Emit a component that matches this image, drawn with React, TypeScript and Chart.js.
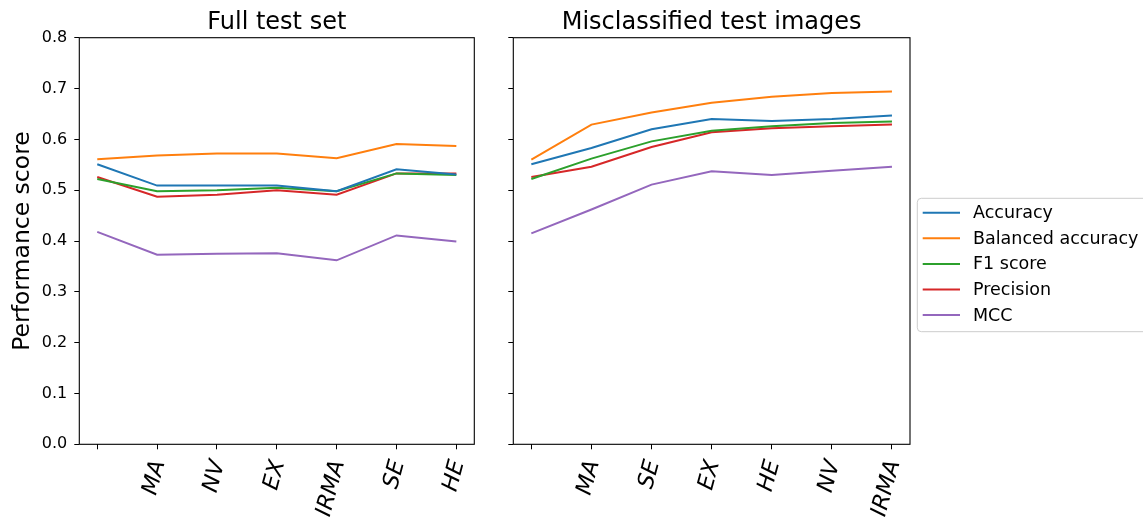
import React, { useEffect, useRef } from 'react';
import { Chart, registerables } from 'chart.js';

Chart.register(...registerables);

// ---- data ----
const fullLabels = ['', 'MA', 'NV', 'EX', 'IRMA', 'SE', 'HE'];
const misLabels = ['', 'MA', 'SE', 'EX', 'HE', 'NV', 'IRMA'];
const seriesNames = ['Accuracy', 'Balanced accuracy', 'F1 score', 'Precision', 'MCC'];
const seriesColors = ['#1f77b4', '#ff7f0e', '#2ca02c', '#d62728', '#9467bd'];
const yTickValues = [0, 0.1, 0.2, 0.3, 0.4, 0.5, 0.6, 0.7, 0.8];

const accuracyFull = [0.551, 0.509, 0.509, 0.509, 0.498, 0.541, 0.531];
const balancedFull = [0.561, 0.568, 0.572, 0.572, 0.563, 0.591, 0.587];
const f1Full = [0.522, 0.498, 0.5, 0.505, 0.498, 0.533, 0.53];
const precisionFull = [0.526, 0.487, 0.491, 0.5, 0.491, 0.533, 0.533];
const mccFull = [0.418, 0.373, 0.375, 0.376, 0.362, 0.411, 0.399];

const accuracyMis = [0.551, 0.583, 0.62, 0.64, 0.636, 0.64, 0.647];
const balancedMis = [0.56, 0.629, 0.653, 0.672, 0.684, 0.691, 0.694];
const f1Mis = [0.522, 0.562, 0.596, 0.617, 0.626, 0.632, 0.635];
const precisionMis = [0.526, 0.546, 0.585, 0.614, 0.622, 0.626, 0.629];
const mccMis = [0.415, 0.462, 0.511, 0.537, 0.53, 0.538, 0.546];

const FONT = "'DejaVu Sans', sans-serif";

const framePlugin = {
  id: 'frame',
  afterDatasetsDraw(chart: any) {
    const { ctx, chartArea: a } = chart;
    ctx.save();
    ctx.strokeStyle = '#000';
    ctx.lineWidth = 1.1;
    ctx.strokeRect(a.left, a.top, a.right - a.left, a.bottom - a.top);
    ctx.restore();
  },
};

const legendPlugin = {
  id: 'boxLegend',
  afterDraw(chart: any) {
    const { ctx } = chart;
    const x0 = 423.3;
    const y0 = 198.3;
    const w = 240;
    const h = 133.4;
    const r = 4;
    ctx.save();
    ctx.beginPath();
    ctx.moveTo(x0 + r, y0);
    ctx.lineTo(x0 + w - r, y0);
    ctx.arcTo(x0 + w, y0, x0 + w, y0 + r, r);
    ctx.lineTo(x0 + w, y0 + h - r);
    ctx.arcTo(x0 + w, y0 + h, x0 + w - r, y0 + h, r);
    ctx.lineTo(x0 + r, y0 + h);
    ctx.arcTo(x0, y0 + h, x0, y0 + h - r, r);
    ctx.lineTo(x0, y0 + r);
    ctx.arcTo(x0, y0, x0 + r, y0, r);
    ctx.closePath();
    ctx.fillStyle = 'rgba(255,255,255,0.8)';
    ctx.fill();
    ctx.strokeStyle = '#cccccc';
    ctx.lineWidth = 1;
    ctx.stroke();
    ctx.font = `17.5px ${FONT}`;
    ctx.textBaseline = 'middle';
    ctx.textAlign = 'left';
    chart.data.datasets.forEach((ds: any, i: number) => {
      const y = 212.7 + i * 25.6;
      ctx.strokeStyle = ds.borderColor;
      ctx.lineWidth = 2;
      ctx.beginPath();
      ctx.moveTo(428.7, y);
      ctx.lineTo(466, y);
      ctx.stroke();
      ctx.fillStyle = '#000';
      ctx.fillText(ds.label, 479, y + 1);
    });
    ctx.restore();
  },
};

function makeConfig(
  labels: string[],
  series: number[][],
  title: string,
  isLeft: boolean,
  canvasWidth: number
): any {
  const chartLeft = isLeft ? 79.3 : 19.3;
  const chartRight = isLeft ? 474.3 : 416;
  return {
    type: 'line',
    data: {
      datasets: series.map((vals, si) => ({
        label: seriesNames[si],
        data: vals.map((v, i) => ({ x: i, y: v })),
        borderColor: seriesColors[si],
        backgroundColor: seriesColors[si],
        borderWidth: 2,
        pointRadius: 0,
        tension: 0,
        fill: false,
      })),
    },
    options: {
      responsive: false,
      animation: false,
      devicePixelRatio: 1,
      layout: { padding: { left: 0, top: 0, bottom: 0, right: canvasWidth - chartRight } },
      plugins: {
        legend: { display: false },
        tooltip: { enabled: false },
        title: {
          display: true,
          text: title,
          fullSize: false,
          color: '#000',
          font: { family: FONT, size: 24, weight: 'normal' },
          padding: { top: 8.6, bottom: 0.3 },
        },
      },
      scales: {
        x: {
          type: 'linear',
          min: -0.3,
          max: 6.3,
          afterBuildTicks: (scale: any) => {
            scale.ticks = labels.map((_, i) => ({ value: i }));
          },
          afterFit: (scale: any) => {
            scale.height = 518 - 444.3;
          },
          border: { display: false },
          grid: {
            display: true,
            drawOnChartArea: false,
            drawTicks: true,
            tickLength: 5,
            color: '#000',
            lineWidth: 1,
          },
          ticks: {
            autoSkip: false,
            minRotation: 75,
            maxRotation: 75,
            labelOffset: 2,
            padding: 8,
            color: '#000',
            font: { family: FONT, size: 22.5, style: 'italic' },
            callback: (_v: any, idx: number) => labels[idx] ?? '',
          },
        },
        y: {
          min: 0,
          max: 0.8,
          afterBuildTicks: (scale: any) => {
            scale.ticks = yTickValues.map((v) => ({ value: v }));
          },
          afterFit: (scale: any) => {
            scale.width = chartLeft;
          },
          border: { display: false },
          grid: {
            display: true,
            drawOnChartArea: false,
            drawTicks: true,
            tickLength: 5,
            color: '#000',
            lineWidth: 1,
          },
          title: {
            display: isLeft,
            text: 'Performance score',
            color: '#000',
            font: { family: FONT, size: 23.5 },
            padding: { top: 8.4, bottom: 0 },
          },
          ticks: {
            display: isLeft,
            padding: 7,
            color: '#000',
            font: { family: FONT, size: 16 },
            callback: (v: any) => Number(v).toFixed(1),
          },
        },
      },
    },
    plugins: isLeft ? [framePlugin] : [framePlugin, legendPlugin],
  };
}

const LEFT_W = 494;
const RIGHT_W = 649;
const H = 518;

export default function App() {
  const leftRef = useRef<HTMLCanvasElement>(null);
  const rightRef = useRef<HTMLCanvasElement>(null);

  useEffect(() => {
    const left = new Chart(
      leftRef.current as HTMLCanvasElement,
      makeConfig(
        fullLabels,
        [accuracyFull, balancedFull, f1Full, precisionFull, mccFull],
        'Full test set',
        true,
        LEFT_W
      )
    );
    const right = new Chart(
      rightRef.current as HTMLCanvasElement,
      makeConfig(
        misLabels,
        [accuracyMis, balancedMis, f1Mis, precisionMis, mccMis],
        'Misclassified test images',
        false,
        RIGHT_W
      )
    );
    return () => {
      left.destroy();
      right.destroy();
    };
  }, []);

  return (
    <div
      style={{
        position: 'absolute',
        left: 0,
        top: 0,
        width: 1143,
        height: H,
        background: '#fff',
        overflow: 'hidden',
      }}
    >
      <canvas
        ref={leftRef}
        width={LEFT_W}
        height={H}
        style={{ position: 'absolute', left: 0, top: 0, width: LEFT_W, height: H }}
      />
      <canvas
        ref={rightRef}
        width={RIGHT_W}
        height={H}
        style={{ position: 'absolute', left: LEFT_W, top: 0, width: RIGHT_W, height: H }}
      />
    </div>
  );
}
